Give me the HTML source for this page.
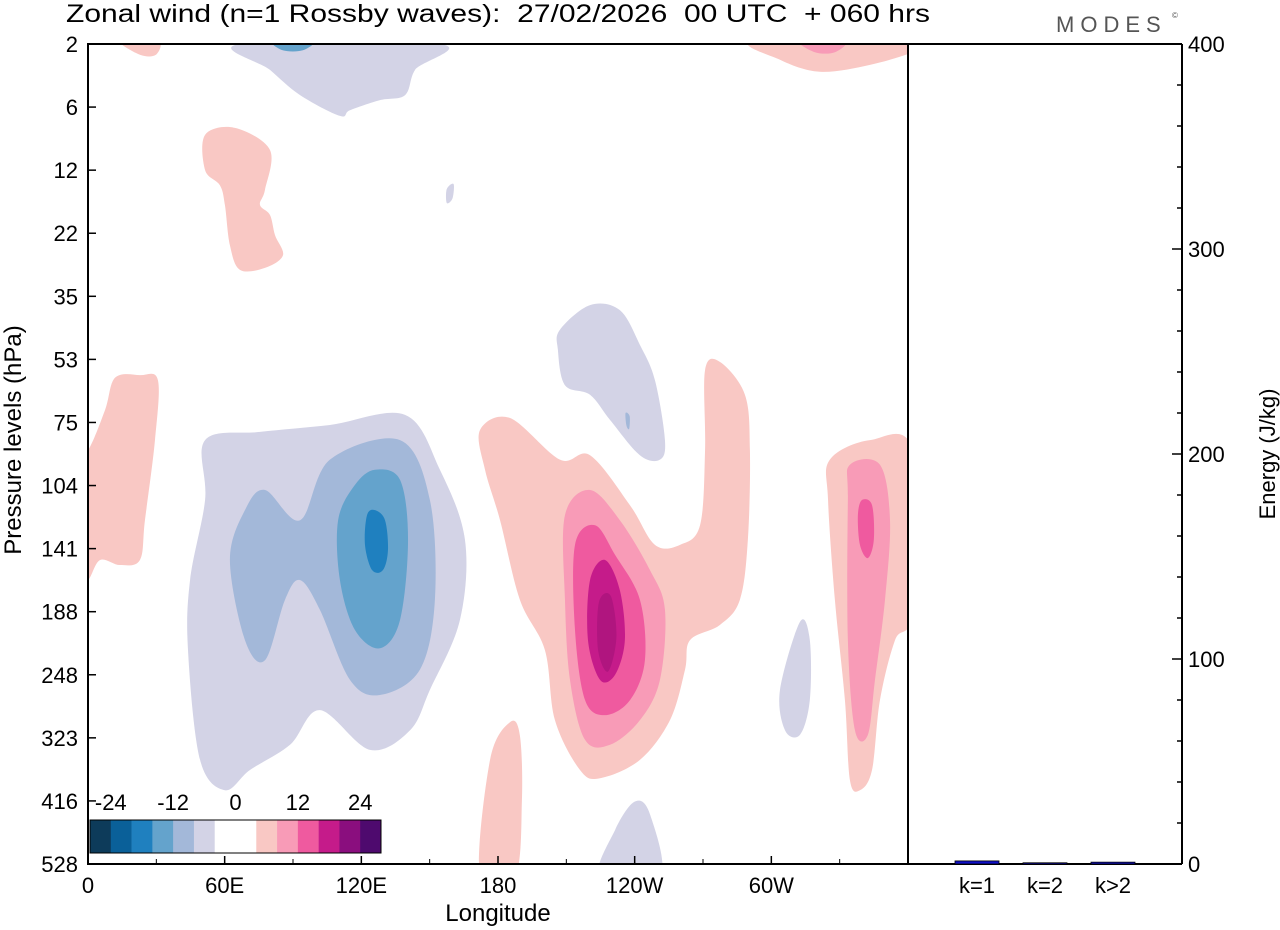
<!DOCTYPE html>
<html><head><meta charset="utf-8">
<style>
html,body{margin:0;padding:0;background:#fff;}
svg{display:block;font-family:"Liberation Sans",sans-serif;}
</style></head>
<body>
<svg id="chart" width="1280" height="930" viewBox="0 0 1280 930">
<rect width="1280" height="930" fill="#fff"/>
<text x="66" y="22" font-size="25" textLength="864" lengthAdjust="spacingAndGlyphs">Zonal wind (n=1 Rossby waves):&#160; 27/02/2026&#160; 00 UTC&#160; + 060 hrs</text>
<text x="1056" y="32" font-size="22" fill="#555" letter-spacing="6">MODES</text>
<text x="1172" y="18" font-size="8" fill="#555">©</text>
<defs><clipPath id="plotclip"><rect x="88" y="44" width="820" height="820"/></clipPath></defs>
<g id="contours" clip-path="url(#plotclip)"></g>
<g id="colorbar"></g>
<g id="axes"></g>
<g id="bars"></g>
</svg>
<script>
const levels=["2","6","12","22","35","53","75","104","141","188","248","323","416","528"];
const lonTicks=[0,60,120,180,240,300];
const lonLabels=["0","60E","120E","180","120W","60W"];
const energyTicks=[0,100,200,300,400];
const kCats=["k=1","k=2","k>2"];
const kEnergy=[1.5,0.6,0.9];
const cbLabels=["-24","-12","0","12","24"];
const cbColors=["#0d3b5a","#0a6099","#1f80bf","#64a3cc","#a3b8d9","#d3d3e6","#ffffff","#ffffff","#f9c8c4","#f89bb7","#ef5a9f","#c51b8a","#8a0e7e","#4e0a6e"];
const blobLavTop=[[66.7,0],[154.5,0],[143.6,0.41],[139.2,0.81],[128.2,0.89],[115,1.05],[110.6,1.14],[93.1,0.81],[79.9,0.41]];
const blobBlueTopSmall=[[81.2,-0.05],[98.7,-0.05],[94.3,0.1],[85.5,0.1]];
const blobLav1=[[51.4,6.28],[75.5,6.15],[106.2,6.04],[139.2,5.88],[154.5,6.75],[165.5,7.86],[163.3,9.13],[150.1,10.24],[141.4,10.88],[123.8,11.19],[101.8,10.56],[88.7,11.11],[71.1,11.51],[60.1,11.83],[49.2,11.35],[43.9,9.61],[44.8,8.5],[51.4,7.23]];
const blobBlue2=[[77.7,7.07],[93.1,7.55],[106.2,6.59],[137,6.28],[150.1,7.23],[152.3,8.81],[145.7,9.92],[128.2,10.32],[115,10.08],[101.8,8.97],[93.1,8.5],[86.5,8.81],[77.7,9.77],[68.9,9.45],[62.3,8.18],[68.9,7.39]];
const blobBlue3=[[126,6.75],[137,6.91],[140.5,7.86],[137,9.13],[128.2,9.58],[117.2,9.29],[110.6,8.5],[109.8,7.55],[117.2,6.99]];
const blobBlue4=[[126,7.39],[130.4,7.55],[131.7,8.02],[129.5,8.34],[124.7,8.34],[121.6,7.94],[122.5,7.47]];
const blobLav2=[[207.2,4.53],[220.4,4.14],[233.5,4.22],[242.3,4.77],[248.9,5.33],[253.3,6.28],[251.1,6.59],[242.3,6.52],[229.2,5.96],[220.4,5.56],[209.4,5.41],[206.3,4.85]];
const blobBlueDot=[[236,5.85],[237.8,5.9],[237.6,6.1],[236.4,6.05]];
const blobLavTiny=[[157.5,2.3],[160.5,2.22],[160,2.45],[157.5,2.52]];
const blobLavBottom=[[224.8,13.2],[231.4,12.46],[240.1,12.01],[246.7,12.21],[251.1,13.2]];
const blobLav3=[[303.8,10.24],[312.6,9.16],[316.9,9.45],[316.9,10.4],[312.6,10.95],[306,10.88]];
const blobPinkLeft=[[-5,6.44],[0,6.44],[7.5,5.8],[11.9,5.29],[22.8,5.25],[30.7,5.33],[29.4,6.28],[25,7.55],[22.8,8.18],[14,8.26],[5.3,8.18],[0,8.5],[-5,8.5]];
const blobPinkTL=[[14,-0.05],[30.7,-0.05],[29.8,0.17],[22.8,0.17]];
const blobPinkStrat=[[51.4,1.44],[64.5,1.33],[79.9,1.68],[77.7,2.31],[75.5,2.55],[79.9,2.71],[82.1,3.03],[85.6,3.35],[77.7,3.55],[66.7,3.58],[62.3,3.19],[60.1,2.55],[57.9,2.24],[51.4,2.0]];
const blobPinkTR=[[292.8,-0.05],[364,-0.05],[364,0.1],[343.3,0.33],[321.3,0.44],[303.8,0.25]];
const blobPink2TR=[[312.6,-0.05],[332.3,-0.05],[327.9,0.13],[319.1,0.13]];
const blobPinkMain=[[172.1,6.12],[185.3,5.93],[207.2,6.59],[220.4,6.52],[237.9,7.31],[248.9,7.94],[259.9,7.94],[268.7,7.63],[270.9,6.44],[270.9,5.17],[277.4,5.04],[288.4,5.56],[290.6,6.44],[289.7,7.86],[286.2,8.81],[277.4,9.21],[264.3,9.45],[262.1,9.92],[255.5,10.72],[242.3,11.35],[224.8,11.64],[216,11.51],[205,10.72],[200.6,9.61],[189.6,8.81],[180.9,7.55],[174.3,6.75]];
const blobPink2=[[209.4,7.47],[220.4,7.07],[233.5,7.55],[246.7,8.34],[253.3,8.97],[251.1,10.08],[242.3,10.72],[229.2,11.11],[218.2,11.03],[211.6,10.08],[209.4,8.81]];
const blobPink3=[[213.8,7.94],[222.6,7.63],[231.4,8.1],[242.3,8.81],[244.5,9.77],[238,10.4],[227,10.64],[218.2,10.4],[213.8,9.29]];
const blobPink4=[[220.4,8.5],[227,8.18],[233.5,8.66],[235.7,9.45],[231.4,10.0],[224.8,10.08],[219.5,9.45]];
const blobPink5=[[224.3,8.85],[229.5,8.75],[232,9.4],[228.3,9.95],[223.9,9.6]];
const blobPinkBottom=[[172.1,13.2],[176.5,11.35],[185.3,10.75],[189.6,10.96],[190.5,11.99],[187.5,13.2]];
const blobPinkRight=[[325.7,6.59],[343.3,6.28],[362,6.44],[362,8.97],[354.3,9.45],[347.7,10.4],[344.2,11.51],[338.9,11.83],[334.5,11.67],[332.3,10.4],[327.9,8.81],[324.9,7.23]];
const blobPinkRight2=[[334.5,6.67],[347.7,6.67],[352.1,7.55],[349.9,8.81],[345.5,10.08],[342.4,10.95],[336.7,10.88],[333.6,9.45],[333.6,7.23]];
const blobPinkRight3=[[339.8,7.23],[344.2,7.31],[345,7.86],[342.4,8.15],[338.9,7.94],[338,7.47]];

const NS="http://www.w3.org/2000/svg";
const X0=88,X1=908,Y0=44,Y1=864;
const xLon=l=>X0+l*(X1-X0)/360;
const yLev=i=>Y0+i*(Y1-Y0)/(levels.length-1);
const yE=e=>Y1-e*(Y1-Y0)/400;
function mk(tag,attrs,parent){const e=document.createElementNS(NS,tag);for(const k in attrs)e.setAttribute(k,attrs[k]);parent.appendChild(e);return e;}
function smooth(pts){
  const p=pts.map(d=>[xLon(d[0]),yLev(d[1])]);const n=p.length;let s=`M${p[0][0]},${p[0][1]}`;
  for(let i=0;i<n;i++){const a=p[(i-1+n)%n],b=p[i],c=p[(i+1)%n],d=p[(i+2)%n];
    s+=`C${b[0]+(c[0]-a[0])/6},${b[1]+(c[1]-a[1])/6} ${c[0]-(d[0]-b[0])/6},${c[1]-(d[1]-b[1])/6} ${c[0]},${c[1]}`;}
  return s+"Z";}
const cg=document.getElementById('contours');
const shapes=[
 [blobLavTop,"#d3d3e6","contour-neg-top"],[blobBlueTopSmall,"#64a3cc","contour-neg-top-core"],
 [blobLav1,"#d3d3e6","contour-neg-asia"],[blobBlue2,"#a3b8d9","contour-neg-asia-2"],[blobBlue3,"#64a3cc","contour-neg-asia-3"],[blobBlue4,"#1f80bf","contour-neg-asia-4"],
 [blobLav2,"#d3d3e6","contour-neg-pacific"],[blobBlueDot,"#a3b8d9","contour-neg-pacific-core"],[blobLavTiny,"#d3d3e6","contour-neg-tiny"],
 [blobLavBottom,"#d3d3e6","contour-neg-bottom"],[blobLav3,"#d3d3e6","contour-neg-60w"],
 [blobPinkLeft,"#f9c8c4","contour-pos-left"],[blobPinkTL,"#f9c8c4","contour-pos-topleft"],[blobPinkStrat,"#f9c8c4","contour-pos-strat"],
 [blobPinkTR,"#f9c8c4","contour-pos-topright"],[blobPink2TR,"#f89bb7","contour-pos-topright-2"],
 [blobPinkMain,"#f9c8c4","contour-pos-main"],[blobPink2,"#f89bb7","contour-pos-main-2"],[blobPink3,"#ef5a9f","contour-pos-main-3"],[blobPink4,"#c51b8a","contour-pos-main-4"],[blobPink5,"#b0157f","contour-pos-main-5"],
 [blobPinkBottom,"#f9c8c4","contour-pos-bottom"],
 [blobPinkRight,"#f9c8c4","contour-pos-right"],[blobPinkRight2,"#f89bb7","contour-pos-right-2"],[blobPinkRight3,"#ef5a9f","contour-pos-right-3"]];
shapes.forEach(s=>{const e=mk('path',{d:smooth(s[0]),fill:s[1]},cg);

});

const cb=document.getElementById('colorbar');const cbx=90,cbw=291,cby=820,cbh=33,cw=cbw/cbColors.length;
cbColors.forEach((c,i)=>{const r=mk('rect',{x:cbx+i*cw,y:cby,width:cw+0.3,height:cbh,fill:c},cb);

});
mk('rect',{x:cbx,y:cby,width:cbw,height:cbh,fill:'none',stroke:'#000','stroke-width':1},cb);
cbLabels.forEach((t,i)=>{const tx=mk('text',{x:cbx+cw*(1+i*3),y:810,'font-size':22,'text-anchor':'middle'},cb);tx.textContent=t;

});

const ax=document.getElementById('axes');
mk('rect',{x:X0,y:Y0,width:X1-X0,height:Y1-Y0,fill:'none',stroke:'#000','stroke-width':2},ax);
mk('line',{x1:1182,y1:Y0,x2:1182,y2:Y1,stroke:'#000','stroke-width':2},ax);
mk('line',{x1:X1,y1:Y0,x2:1182,y2:Y0,stroke:'#000','stroke-width':2},ax);
mk('line',{x1:X1,y1:Y1,x2:1182,y2:Y1,stroke:'#000','stroke-width':2},ax);
levels.forEach((l,i)=>{const y=yLev(i);mk('line',{x1:X0,y1:y,x2:X0+8,y2:y,stroke:'#000','stroke-width':1.5},ax);
const t=mk('text',{x:78,y:y+8,'font-size':22,'text-anchor':'end'},ax);t.textContent=l;

});
lonTicks.forEach((l,i)=>{const x=xLon(l);mk('line',{x1:x,y1:Y1,x2:x,y2:Y1-8,stroke:'#000','stroke-width':1.5},ax);
const t=mk('text',{x:x,y:893,'font-size':22,'text-anchor':'middle'},ax);t.textContent=lonLabels[i];

});
for(let l=30;l<360;l+=60){const x=xLon(l);mk('line',{x1:x,y1:Y1,x2:x,y2:Y1-5,stroke:'#000','stroke-width':1},ax);}
for(let e=0;e<=400;e+=20){const y=yE(e);const major=e%100===0;
mk('line',{x1:1182,y1:y,x2:1182-(major?10:5),y2:y,stroke:'#000','stroke-width':1.5},ax);}
energyTicks.forEach(e=>{const t=mk('text',{x:1188,y:yE(e)+8,'font-size':22},ax);t.textContent=e;

});
const yt=mk('text',{x:0,y:0,'font-size':24,'text-anchor':'middle',transform:'translate(21,440) rotate(-90)'},ax);yt.textContent='Pressure levels (hPa)';


const xt=mk('text',{x:498,y:921,'font-size':24,'text-anchor':'middle'},ax);xt.textContent='Longitude';


const et=mk('text',{x:0,y:0,'font-size':22,'text-anchor':'middle',transform:'translate(1275,454) rotate(-90)'},ax);et.textContent='Energy (J/kg)';



const bg=document.getElementById('bars');const bx=[977,1045,1113];
kCats.forEach((k,i)=>{const h=Math.max(1,Y1-yE(kEnergy[i]));
const r=mk('rect',{x:bx[i]-22,y:Y1-h,width:44,height:h,fill:'#1010c8',stroke:'#000','stroke-width':0.8},bg);


const t=mk('text',{x:bx[i],y:893,'font-size':22,'text-anchor':'middle'},bg);t.textContent=k;

});
</script>
</body></html>
